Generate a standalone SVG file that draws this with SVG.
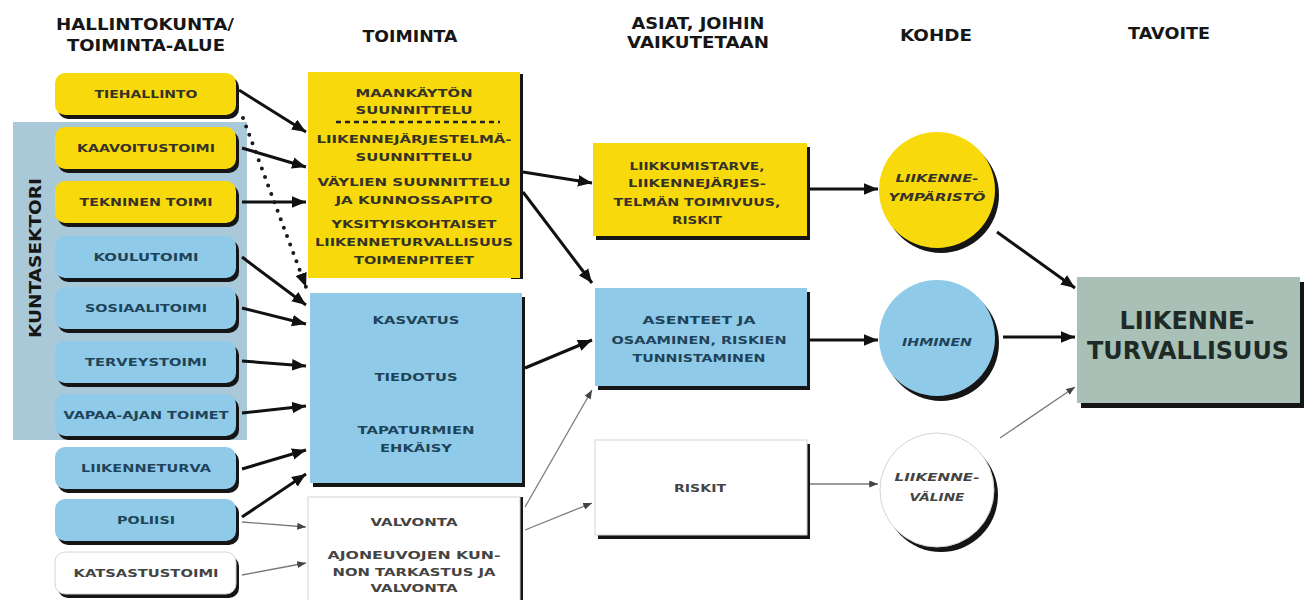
<svg xmlns="http://www.w3.org/2000/svg" width="1311" height="600" viewBox="0 0 1311 600">
<style>
text{font-family:"DejaVu Sans","Liberation Sans",sans-serif;font-weight:bold;text-anchor:middle}
.hd{font-size:15px;fill:#161616}
.t{font-size:11px}
.ty{fill:#353226}
.tb{fill:#1f4358}
.tw{fill:#444}
.it{font-style:italic}
.sh{fill:#151515}
.yel{fill:#f8da0c}
.blu{fill:#8fcbe9}
.wht{fill:#fff;stroke:#d4d4d4;stroke-width:1}
.thick{stroke:#111;stroke-width:3;fill:none;marker-end:url(#ah)}
.thin{stroke:#7a7a7a;stroke-width:1.3;fill:none;marker-end:url(#ahs)}
</style>
<defs>
<marker id="ah" viewBox="0 0 12 10" refX="12" refY="5" markerWidth="14" markerHeight="12" markerUnits="userSpaceOnUse" orient="auto"><path d="M0,0 L12,5 L0,10 z" fill="#111"/></marker>
<marker id="ahs" viewBox="0 0 10 8" refX="10" refY="4" markerWidth="9" markerHeight="7" markerUnits="userSpaceOnUse" orient="auto"><path d="M0,0 L10,4 L0,8 z" fill="#444"/></marker>
</defs>
<rect width="1311" height="600" fill="#fff"/>

<g id="headers">
<text class="hd" x="145" y="30" textLength="178" lengthAdjust="spacingAndGlyphs">HALLINTOKUNTA/</text>
<text class="hd" x="146" y="51" textLength="158" lengthAdjust="spacingAndGlyphs">TOIMINTA-ALUE</text>
<text class="hd" x="410" y="42" textLength="95" lengthAdjust="spacingAndGlyphs">TOIMINTA</text>
<text class="hd" x="698" y="29" textLength="133" lengthAdjust="spacingAndGlyphs">ASIAT, JOIHIN</text>
<text class="hd" x="698" y="48" textLength="142" lengthAdjust="spacingAndGlyphs">VAIKUTETAAN</text>
<text class="hd" x="936" y="41" textLength="72" lengthAdjust="spacingAndGlyphs">KOHDE</text>
<text class="hd" x="1169" y="39" textLength="82" lengthAdjust="spacingAndGlyphs">TAVOITE</text>
</g>

<g id="kuntasektori">
<rect x="13" y="122" width="234" height="318" fill="#a9c9d9"/>
<text class="hd" transform="translate(41,258) rotate(-90)" x="0" y="0" textLength="160" lengthAdjust="spacingAndGlyphs" fill="#1c2a33">KUNTASEKTORI</text>
</g>

<g id="tiehallinto"><rect class="sh" x="58" y="77" width="181" height="42" rx="10"/><rect class="yel" x="55" y="73" width="181" height="42" rx="10"/><text class="t ty" x="146" y="98" textLength="103" lengthAdjust="spacingAndGlyphs">TIEHALLINTO</text></g>
<g id="kaavoitustoimi"><rect class="sh" x="58" y="131" width="181" height="42" rx="10"/><rect class="yel" x="55" y="127" width="181" height="42" rx="10"/><text class="t ty" x="146" y="152" textLength="138" lengthAdjust="spacingAndGlyphs">KAAVOITUSTOIMI</text></g>
<g id="tekninen"><rect class="sh" x="58" y="185" width="181" height="42" rx="10"/><rect class="yel" x="55" y="181" width="181" height="42" rx="10"/><text class="t ty" x="146" y="206" textLength="133" lengthAdjust="spacingAndGlyphs">TEKNINEN TOIMI</text></g>
<g id="koulutoimi"><rect class="sh" x="58" y="240" width="181" height="42" rx="10"/><rect class="blu" x="55" y="236" width="181" height="42" rx="10"/><text class="t tb" x="146" y="261" textLength="105" lengthAdjust="spacingAndGlyphs">KOULUTOIMI</text></g>
<g id="sosiaalitoimi"><rect class="sh" x="58" y="291" width="181" height="42" rx="10"/><rect class="blu" x="55" y="287" width="181" height="42" rx="10"/><text class="t tb" x="146" y="312" textLength="122" lengthAdjust="spacingAndGlyphs">SOSIAALITOIMI</text></g>
<g id="terveystoimi"><rect class="sh" x="58" y="345" width="181" height="42" rx="10"/><rect class="blu" x="55" y="341" width="181" height="42" rx="10"/><text class="t tb" x="146" y="366" textLength="122" lengthAdjust="spacingAndGlyphs">TERVEYSTOIMI</text></g>
<g id="vapaa-ajan"><rect class="sh" x="58" y="398" width="181" height="42" rx="10"/><rect class="blu" x="55" y="394" width="181" height="42" rx="10"/><text class="t tb" x="146" y="419" textLength="165" lengthAdjust="spacingAndGlyphs">VAPAA-AJAN TOIMET</text></g>
<g id="liikenneturva"><rect class="sh" x="58" y="451" width="181" height="42" rx="10"/><rect class="blu" x="55" y="447" width="181" height="42" rx="10"/><text class="t tb" x="146" y="472" textLength="130" lengthAdjust="spacingAndGlyphs">LIIKENNETURVA</text></g>
<g id="poliisi"><rect class="sh" x="58" y="503" width="181" height="42" rx="10"/><rect class="blu" x="55" y="499" width="181" height="42" rx="10"/><text class="t tb" x="146" y="524" textLength="58" lengthAdjust="spacingAndGlyphs">POLIISI</text></g>
<g id="katsastustoimi"><rect class="sh" x="58" y="556" width="181" height="42" rx="10"/><rect class="wht" x="55" y="552" width="181" height="42" rx="10"/><text class="t tw" x="146" y="577" textLength="145" lengthAdjust="spacingAndGlyphs">KATSASTUSTOIMI</text></g>

<g id="suunnittelu">
<rect class="sh" x="511" y="74" width="12" height="205"/>
<rect class="yel" x="308" y="72" width="212" height="206"/>
<text class="t ty" x="414" y="97" textLength="117" lengthAdjust="spacingAndGlyphs">MAANKÄYTÖN</text>
<text class="t ty" x="414" y="114" textLength="117" lengthAdjust="spacingAndGlyphs">SUUNNITTELU</text>
<line x1="336" y1="122" x2="500" y2="122" stroke="#222" stroke-width="2.5" stroke-dasharray="5 4"/>
<text class="t ty" x="414" y="143" textLength="195" lengthAdjust="spacingAndGlyphs">LIIKENNEJÄRJESTELMÄ-</text>
<text class="t ty" x="414" y="161" textLength="117" lengthAdjust="spacingAndGlyphs">SUUNNITTELU</text>
<text class="t ty" x="414" y="186" textLength="193" lengthAdjust="spacingAndGlyphs">VÄYLIEN SUUNNITTELU</text>
<text class="t ty" x="414" y="204" textLength="157" lengthAdjust="spacingAndGlyphs">JA KUNNOSSAPITO</text>
<text class="t ty" x="414" y="228" textLength="165" lengthAdjust="spacingAndGlyphs">YKSITYISKOHTAISET</text>
<text class="t ty" x="414" y="246" textLength="198" lengthAdjust="spacingAndGlyphs">LIIKENNETURVALLISUUS</text>
<text class="t ty" x="414" y="264" textLength="120" lengthAdjust="spacingAndGlyphs">TOIMENPITEET</text>
</g>

<g id="kasvatus">
<rect class="sh" x="313" y="297" width="212" height="190"/>
<rect class="blu" x="310" y="293" width="212" height="190"/>
<text class="t tb" x="416" y="324" textLength="87" lengthAdjust="spacingAndGlyphs">KASVATUS</text>
<text class="t tb" x="416" y="381" textLength="83" lengthAdjust="spacingAndGlyphs">TIEDOTUS</text>
<text class="t tb" x="416" y="434" textLength="117" lengthAdjust="spacingAndGlyphs">TAPATURMIEN</text>
<text class="t tb" x="416" y="452" textLength="72" lengthAdjust="spacingAndGlyphs">EHKÄISY</text>
</g>

<g id="valvonta">
<rect class="sh" x="518" y="497" width="5" height="103"/>
<rect class="wht" x="308" y="497" width="212" height="110"/>
<text class="t tw" x="414" y="526" textLength="87" lengthAdjust="spacingAndGlyphs">VALVONTA</text>
<text class="t tw" x="414" y="559" textLength="173" lengthAdjust="spacingAndGlyphs">AJONEUVOJEN KUN-</text>
<text class="t tw" x="414" y="576" textLength="163" lengthAdjust="spacingAndGlyphs">NON TARKASTUS JA</text>
<text class="t tw" x="414" y="592" textLength="87" lengthAdjust="spacingAndGlyphs">VALVONTA</text>
</g>

<g id="liikkumistarve">
<rect class="sh" x="596" y="147" width="214" height="93"/>
<rect class="yel" x="593" y="143" width="214" height="93"/>
<text class="t ty" x="697" y="170" textLength="135" lengthAdjust="spacingAndGlyphs">LIIKKUMISTARVE,</text>
<text class="t ty" x="697" y="187" textLength="138" lengthAdjust="spacingAndGlyphs">LIIKENNEJÄRJES-</text>
<text class="t ty" x="697" y="206" textLength="167" lengthAdjust="spacingAndGlyphs">TELMÄN TOIMIVUUS,</text>
<text class="t ty" x="697" y="224" textLength="50" lengthAdjust="spacingAndGlyphs">RISKIT</text>
</g>

<g id="asenteet">
<rect class="sh" x="598" y="292" width="212" height="98"/>
<rect class="blu" x="595" y="288" width="212" height="98"/>
<text class="t tb" x="699" y="324" textLength="113" lengthAdjust="spacingAndGlyphs">ASENTEET JA</text>
<text class="t tb" x="699" y="344" textLength="175" lengthAdjust="spacingAndGlyphs">OSAAMINEN, RISKIEN</text>
<text class="t tb" x="699" y="362" textLength="133" lengthAdjust="spacingAndGlyphs">TUNNISTAMINEN</text>
</g>

<g id="riskit">
<rect class="sh" x="598" y="444" width="212" height="95"/>
<rect class="wht" x="595" y="440" width="212" height="95"/>
<text class="t tw" x="700" y="492" textLength="52" lengthAdjust="spacingAndGlyphs">RISKIT</text>
</g>

<g id="liikenneymparisto">
<circle class="sh" cx="941" cy="195" r="58"/>
<circle class="yel" cx="937" cy="190" r="58"/>
<text class="t ty it" x="937" y="182" textLength="83" lengthAdjust="spacingAndGlyphs">LIIKENNE-</text>
<text class="t ty it" x="937" y="201" textLength="97" lengthAdjust="spacingAndGlyphs">YMPÄRISTÖ</text>
</g>
<g id="ihminen">
<circle class="sh" cx="941" cy="343" r="58"/>
<circle class="blu" cx="937" cy="338" r="58"/>
<text class="t tb it" x="937" y="346" textLength="70" lengthAdjust="spacingAndGlyphs">IHMINEN</text>
</g>
<g id="liikennevaline">
<circle class="sh" cx="941" cy="495" r="57"/>
<circle class="wht" cx="937" cy="490" r="57"/>
<text class="t tw it" x="937" y="481" textLength="85" lengthAdjust="spacingAndGlyphs" fill="#333">LIIKENNE-</text>
<text class="t tw it" x="937" y="501" textLength="55" lengthAdjust="spacingAndGlyphs" fill="#333">VÄLINE</text>
</g>

<g id="liikenneturvallisuus">
<rect class="sh" x="1081" y="282" width="223" height="126"/>
<rect x="1077" y="277" width="223" height="126" fill="#a8c0b6"/>
<text x="1187" y="329" font-size="24" fill="#1d2a26" textLength="135" lengthAdjust="spacingAndGlyphs">LIIKENNE-</text>
<text x="1188" y="359" font-size="24" fill="#1d2a26" textLength="202" lengthAdjust="spacingAndGlyphs">TURVALLISUUS</text>
</g>

<g id="connectors">
<line class="thick" x1="239" y1="90" x2="306" y2="132"/>
<line class="thick" x1="242" y1="148" x2="306" y2="167"/>
<line class="thick" x1="242" y1="202" x2="306" y2="202"/>
<line class="thick" x1="242" y1="257" x2="306" y2="305"/>
<line class="thick" x1="242" y1="308" x2="306" y2="324"/>
<line class="thick" x1="242" y1="361" x2="306" y2="366"/>
<line class="thick" x1="242" y1="413" x2="306" y2="406"/>
<line class="thick" x1="242" y1="469" x2="306" y2="450"/>
<line class="thick" x1="242" y1="517" x2="306" y2="474"/>
<line class="thin" x1="242" y1="522" x2="306" y2="527"/>
<line class="thin" x1="242" y1="575" x2="306" y2="563"/>
<line x1="243" y1="118" x2="306" y2="287" stroke="#1a1a1a" stroke-width="4" stroke-linecap="round" stroke-dasharray="0 9" marker-end="url(#ah)"/>
<line class="thick" x1="523" y1="172" x2="592" y2="183"/>
<line class="thick" x1="523" y1="192" x2="592" y2="283"/>
<line class="thick" x1="525" y1="368" x2="592" y2="340"/>
<line class="thin" x1="525" y1="507" x2="592" y2="390"/>
<line class="thin" x1="525" y1="530" x2="592" y2="503"/>
<line class="thick" x1="810" y1="189" x2="878" y2="189"/>
<line class="thick" x1="810" y1="340" x2="878" y2="340"/>
<line class="thin" x1="810" y1="484" x2="878" y2="484"/>
<line class="thick" x1="997" y1="232" x2="1075" y2="288"/>
<line class="thick" x1="1003" y1="337" x2="1075" y2="337"/>
<line class="thin" x1="1000" y1="438" x2="1075" y2="387"/>
</g>
</svg>
